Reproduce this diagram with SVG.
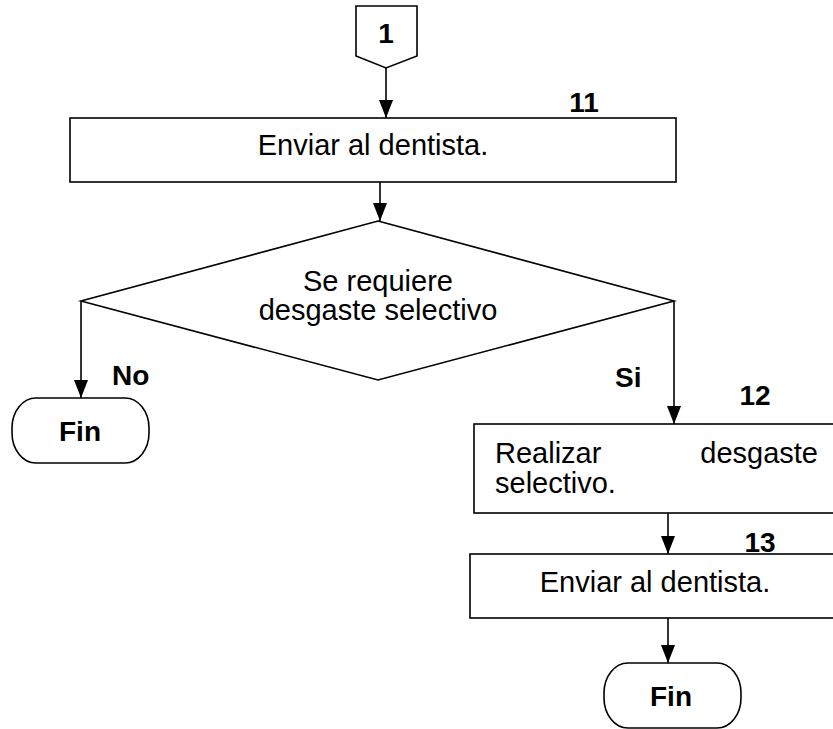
<svg xmlns="http://www.w3.org/2000/svg" width="833" height="729" viewBox="0 0 833 729">
<style>
.s{fill:#fff;stroke:#000;stroke-width:1.6}
.t{font-family:"Liberation Sans",Arial,sans-serif;font-size:29px;fill:#000}
.b{font-family:"Liberation Sans",Arial,sans-serif;font-size:28px;font-weight:bold;fill:#000}
.c{fill:none;stroke:#000;stroke-width:1.6}
</style>
<rect width="833" height="729" fill="#fff"/>
<g id="connectors">
<path class="c" d="M386,68 V118"/>
<path class="c" d="M380,182 V221"/>
<path class="c" d="M81,301 V398"/>
<path class="c" d="M674,301 V424"/>
<path class="c" d="M668,513 V554"/>
<path class="c" d="M668,618 V663"/>
<g fill="#000">
<path d="M379,100 L393,100 L386,118 Z"/>
<path d="M373,203 L387,203 L380,221 Z"/>
<path d="M74,380 L88,380 L81,398 Z"/>
<path d="M667,406 L681,406 L674,424 Z"/>
<path d="M661,536 L675,536 L668,554 Z"/>
<path d="M661,645 L675,645 L668,663 Z"/>
</g>
</g>
<g id="offpage1">
<path class="s" d="M356,6 H417 V56 L386,68 L356,56 Z"/>
<text class="b" x="386" y="43" text-anchor="middle">1</text>
</g>
<g id="step11">
<rect class="s" x="70" y="118" width="606" height="64"/>
<text class="t" x="373" y="155" text-anchor="middle">Enviar al dentista.</text>
<text class="b" x="584" y="112" text-anchor="middle">11</text>
</g>
<g id="decision">
<path class="s" d="M378,221 L674,301 L378,380 L81,301 Z"/>
<text class="t" x="378" y="291" text-anchor="middle">Se requiere</text>
<text class="t" x="378" y="320" text-anchor="middle">desgaste selectivo</text>
</g>
<g id="labels">
<text class="b" x="112" y="385">No</text>
<text class="b" x="615" y="387">Si</text>
</g>
<g id="fin1">
<rect class="s" x="12" y="398" width="137" height="65" rx="24" ry="30"/>
<text class="b" x="80" y="441" text-anchor="middle">Fin</text>
</g>
<g id="step12">
<rect class="s" x="474" y="424" width="362" height="89"/>
<text class="t" x="495" y="463">Realizar</text>
<text class="t" x="818" y="463" text-anchor="end">desgaste</text>
<text class="t" x="495" y="493">selectivo.</text>
<text class="b" x="755" y="405" text-anchor="middle">12</text>
</g>
<g id="step13">
<rect class="s" x="470" y="554" width="366" height="64"/>
<text class="t" x="655" y="592" text-anchor="middle">Enviar al dentista.</text>
<text class="b" x="760" y="552" text-anchor="middle">13</text>
</g>
<g id="fin2">
<rect class="s" x="604" y="663" width="137" height="65" rx="24" ry="30"/>
<text class="b" x="671" y="706" text-anchor="middle">Fin</text>
</g>
</svg>
